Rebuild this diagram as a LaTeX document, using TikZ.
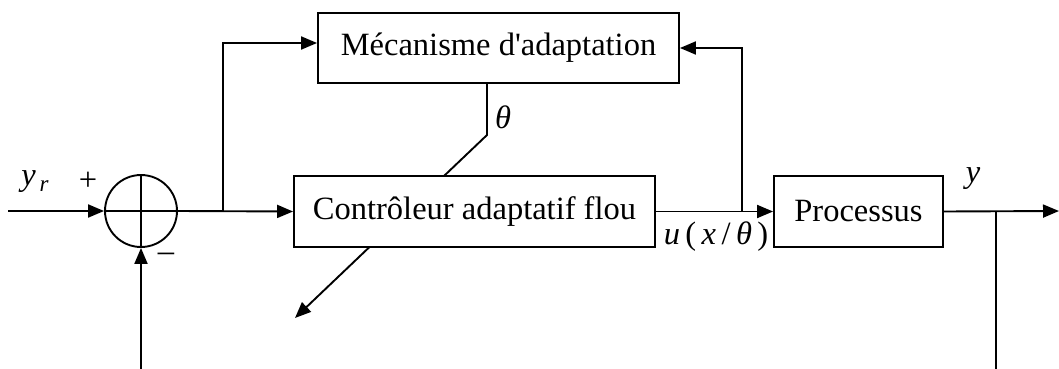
\documentclass[tikz,border=0pt]{standalone}
\usepackage{fontspec}
\setmainfont{Liberation Serif}
\usetikzlibrary{arrows.meta,calc}
\begin{document}
\begin{tikzpicture}[x=1pt,y=-1pt,line width=1.9pt,
  >={Triangle[length=16pt,width=13pt]},
  blockbox/.style={draw,fill=white,inner sep=0pt,font=\fontsize{32.5}{38}\selectfont},
  lbl/.style={inner sep=0pt,font=\fontsize{32.5}{38}\selectfont}]
\useasboundingbox (0,0) rectangle (1059,369);
% blocks
\coordinate (tl) at (487,135);
\coordinate (dl) at (295,318);
\draw[->] (487,83) -- (tl) -- (dl);
\node[blockbox,minimum width=361pt,minimum height=70pt] (mec) at (498.5,48) {Mécanisme d\textquotesingle adaptation};
\node[blockbox,minimum width=361pt,minimum height=71pt] (ctrl) at (474.5,211.5) {Contrôleur adaptatif flou};
\node[blockbox,minimum width=169pt,minimum height=71pt] (proc) at (858.5,211.5) {Processus};
\node[draw,circle,minimum size=72pt,inner sep=0pt] (sum) at (141,211) {};
\draw (sum.north) -- (sum.south) (sum.west) -- (sum.east);
% coordinates
\coordinate (in) at (8,211);
\coordinate (b1) at (223,211);
\coordinate (b1t) at (223,43);
\coordinate (b2) at (742,211);
\coordinate (b2t) at (742,48);
\coordinate (out) at (1059,211);
\coordinate (b3) at (996,211);
\coordinate (b3b) at (996,369);
\coordinate (fb) at (141,369);
% connectors
\draw[->] (in) -- (sum.west);
\draw[->] (sum.east) -- (ctrl.west);
\draw[->] (b1) -- (b1t) -- (mec.west |- b1t);
\draw[->] (ctrl.east) -- (proc.west);
\draw[->] (b2) -- (b2t) -- (mec.east |- b2t);
\draw[->] (proc.east) -- (out);
\draw (b3) -- (b3b);
\draw[->] (fb) -- (sum.south);
% labels
\node[lbl] (yr) at (35,182) {\textit{y}\raisebox{-6pt}{\fontsize{23}{26}\selectfont\,\textit{r}}};
\node[lbl] (plus) at (88,181) {+};
\node[lbl] (minus) at (166,257) {\textendash};
\node[lbl] (theta) at (503,117) {\textit{θ}};
\node[lbl] (u) at (716,237) {\textit{u}\,(\,\textit{x}\,/\,\textit{θ}\,)};
\node[lbl] (y) at (973,179) {\textit{y}};
\end{tikzpicture}
\end{document}
